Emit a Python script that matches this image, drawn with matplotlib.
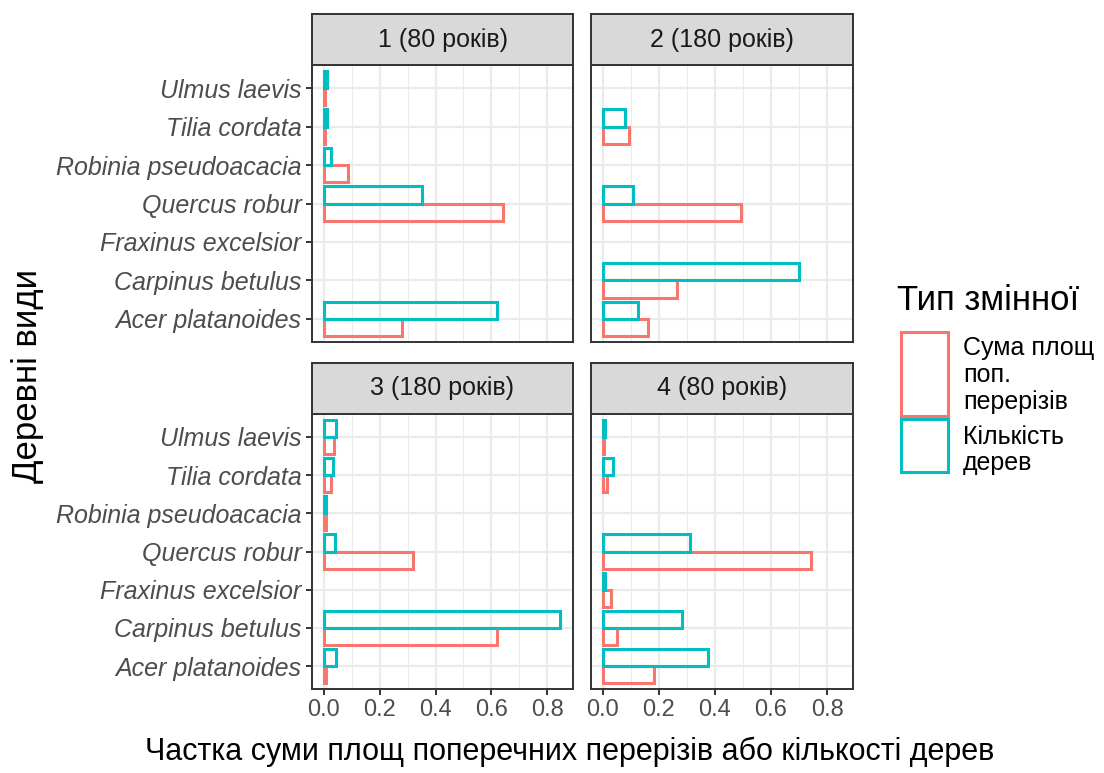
import matplotlib
matplotlib.use("Agg")
import matplotlib.pyplot as plt
from matplotlib.patches import Rectangle
import numpy as np

plt.rcParams['font.family'] = ['Liberation Sans', 'DejaVu Sans']

# species, bottom to top
species = ["Acer platanoides", "Carpinus betulus", "Fraxinus excelsior",
           "Quercus robur", "Robinia pseudoacacia", "Tilia cordata", "Ulmus laevis"]
panels = ["1 (80 років)", "2 (180 років)", "3 (180 років)", "4 (80 років)"]

nan = np.nan
# "Сума площ поп. перерізів" (basal area share)
area_1 = [0.279, nan, nan, 0.640, 0.085, 0.005, 0.005]
area_2 = [0.162, 0.266, nan, 0.493, nan, 0.092, nan]
area_3 = [0.008, 0.621, nan, 0.320, 0.008, 0.025, 0.035]
area_4 = [0.181, 0.052, 0.028, 0.741, nan, 0.013, 0.004]
# "Кількість дерев" (tree count share)
count_1 = [0.619, nan, nan, 0.352, 0.026, 0.010, 0.012]
count_2 = [0.124, 0.699, nan, 0.108, nan, 0.080, nan]
count_3 = [0.045, 0.847, nan, 0.040, 0.008, 0.034, 0.045]
count_4 = [0.375, 0.282, 0.008, 0.310, nan, 0.036, 0.008]

area = [area_1, area_2, area_3, area_4]
count = [count_1, count_2, count_3, count_4]

legend_title = "Тип змінної"
legend_labels = ["Сума площ\nпоп.\nперерізів", "Кількість\nдерев"]
xlabel = "Частка суми площ поперечних перерізів або кількості дерев"
ylabel = "Деревні види"

RED = "#F8766D"
CYAN = "#00BFC4"
W, H = 1104, 773

fig = plt.figure(figsize=(W / 100, H / 100), dpi=100)

# panel boxes in pixels: (left, top, right, bottom)
boxes = [(312, 65, 573, 342), (591, 65, 853, 342),
         (312, 414, 573, 689), (591, 414, 853, 689)]
strip_h = 51

def fx(px):
    return px / W

def fy(py):
    return 1 - py / H

ypos = np.arange(len(species))
for i, (l, t, r, b) in enumerate(boxes):
    ax = fig.add_axes([fx(l), fy(b), fx(r) - fx(l), (b - t) / H])
    ax.set_xlim(-0.0425, 0.8925)
    ax.set_ylim(-0.6, len(species) - 0.4)
    ax.set_xticks([0, 0.2, 0.4, 0.6, 0.8])
    ax.set_xticks([0.1, 0.3, 0.5, 0.7], minor=True)
    ax.set_yticks(ypos)
    ax.grid(True, which='major', color='#EBEBEB', lw=1.6, zorder=0)
    ax.grid(True, which='minor', axis='x', color='#EBEBEB', lw=0.8, zorder=0)
    ax.set_axisbelow(True)
    a = np.array(area[i], dtype=float)
    c = np.array(count[i], dtype=float)
    ma = ~np.isnan(a)
    mc = ~np.isnan(c)
    ax.barh(ypos[ma] - 0.225, a[ma], height=0.45, fill=False, edgecolor=RED, lw=2.2, zorder=3)
    ax.barh(ypos[mc] + 0.225, c[mc], height=0.45, fill=False, edgecolor=CYAN, lw=2.2, zorder=3)
    for s in ax.spines.values():
        s.set_color('#333333')
        s.set_linewidth(1.4)
    ax.tick_params(which='minor', length=0)
    ax.tick_params(which='major', color='#333333', width=1.4, length=4,
                   labelcolor='#4D4D4D', labelsize=18)
    ax.tick_params(axis='x', labelsize=17)
    if i % 2 == 0:
        ax.set_yticklabels(species, fontstyle='italic')
    else:
        ax.tick_params(axis='y', length=0, labelleft=False)
    if i < 2:
        ax.tick_params(axis='x', length=0, labelbottom=False)
    # strip
    sax = fig.add_axes([fx(l), fy(t), fx(r) - fx(l), strip_h / H])
    sax.set_facecolor('#D9D9D9')
    sax.set_xticks([])
    sax.set_yticks([])
    for s in sax.spines.values():
        s.set_color('#333333')
        s.set_linewidth(1.4)
    sax.text(0.5, 0.5, panels[i], ha='center', va='center', fontsize=18,
             color='#1A1A1A', transform=sax.transAxes)

fig.text(fx(570), fy(752), xlabel, ha='center', va='center', fontsize=22, color='black')
fig.text(fx(28), fy(376), ylabel, ha='center', va='center', fontsize=25,
         rotation=90, color='black')

# legend
fig.text(fx(897), fy(300), legend_title, ha='left', va='center', fontsize=25)
keys = [(901, 332, 948, 416, RED), (901, 419, 948, 472, CYAN)]
for (l, t, r, b, col) in keys:
    fig.patches.append(Rectangle((fx(l), fy(b)), fx(r) - fx(l), (b - t) / H,
                                 transform=fig.transFigure, fill=False,
                                 edgecolor=col, lw=2.2))
fig.text(fx(963), fy(375), legend_labels[0], ha='left', va='center', fontsize=18,
         linespacing=1.15)
fig.text(fx(963), fy(450), legend_labels[1], ha='left', va='center', fontsize=18,
         linespacing=1.15)

fig.savefig("out.png", dpi=100)
